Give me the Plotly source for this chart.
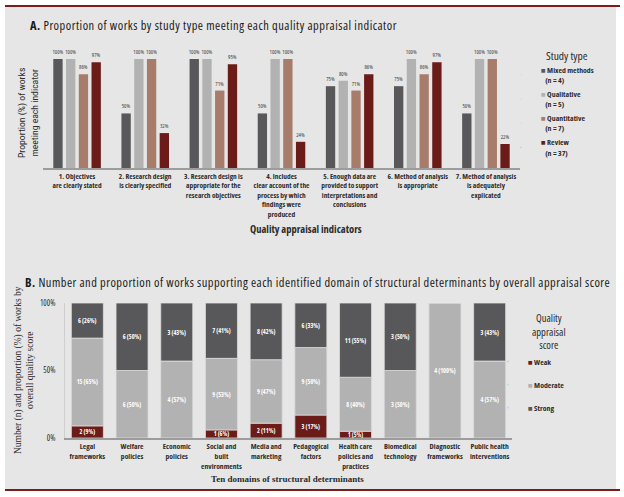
import plotly.graph_objects as go

W, H = 624, 497

def px(x):
    return x / W

def py(y):
    return 1 - y / H

# ---------------- Data: panel A ----------------
indicator_labels = [
    "1. Objectives<br>are clearly stated",
    "2. Research design<br>is clearly specified",
    "3. Research design is<br>appropriate for the<br>research objectives",
    "4. Includes<br>clear account of the<br>process by which<br>findings were<br>produced",
    "5. Enough data are<br>provided to support<br>interpretations and<br>conclusions",
    "6. Method of analysis<br>is appropriate",
    "7. Method of analysis<br>is adequately<br>explicated",
]
study_types = ["Mixed methods", "Qualitative", "Quantitative", "Review"]
study_n = [4, 5, 7, 37]
mixed_methods = [100, 50, 100, 50, 75, 75, 50]
qualitative = [100, 100, 100, 100, 80, 100, 100]
quantitative = [86, 100, 71, 100, 71, 86, 100]
review = [97, 32, 95, 24, 86, 97, 22]
study_colors = ["#58585a", "#b2b2b2", "#a87c6b", "#6b1c19"]

# ---------------- Data: panel B ----------------
domain_labels = [
    "Legal<br>frameworks",
    "Welfare<br>policies",
    "Economic<br>policies",
    "Social and<br>built<br>environments",
    "Media and<br>marketing",
    "Pedagogical<br>factors",
    "Health care<br>policies and<br>practices",
    "Biomedical<br>technology",
    "Diagnostic<br>frameworks",
    "Public health<br>interventions",
]
score_levels = ["Weak", "Moderate", "Strong"]
weak_n = [2, 0, 0, 1, 2, 3, 1, 0, 0, 0]
moderate_n = [15, 6, 4, 9, 9, 9, 8, 3, 4, 4]
strong_n = [6, 6, 3, 7, 8, 6, 11, 3, 0, 3]
weak_pct = [9, 0, 0, 6, 11, 17, 5, 0, 0, 0]
moderate_pct = [65, 50, 57, 53, 47, 50, 40, 50, 100, 57]
strong_pct = [26, 50, 43, 41, 42, 33, 55, 50, 0, 43]
score_colors = ["#6b1c19", "#b2b2b2", "#58585a"]
y_ticks_b = [0, 50, 100]

SANS = "Open Sans, Liberation Sans, sans-serif"
ROBOTO = "Roboto, Open Sans, sans-serif"
SERIF = "Liberation Serif, DejaVu Serif, serif"
TXT = "#2b2b2b"


def cond(s, spacing=None):
    extra = f";letter-spacing:{spacing}px" if spacing else ""
    return f"<span style='font-stretch:condensed{extra}'>{s}</span>"


fig = go.Figure()

# ---- Panel A bars (grouped via explicit offsets) ----
series_a = [mixed_methods, qualitative, quantitative, review]
bar_w = 0.137
pitch = 0.187
start = -(3 * pitch + bar_w) / 2
for i, (name, vals, col) in enumerate(zip(study_types, series_a, study_colors)):
    fig.add_trace(go.Bar(
        x=indicator_labels, y=vals, name=name,
        marker=dict(color=col, line=dict(width=0)),
        width=bar_w, offset=start + i * pitch,
        text=[cond(f"{v}%") for v in vals], textposition="outside", textangle=0,
        constraintext="none", cliponaxis=False,
        textfont=dict(family=SANS, size=5.6, color="#3a3a3a"),
        xaxis="x", yaxis="y", showlegend=False, hoverinfo="skip",
    ))

# ---- Panel B stacked bars (explicit bases) ----
base_moderate = list(weak_pct)
base_strong = [w + m for w, m in zip(weak_pct, moderate_pct)]
stack = [
    (weak_n, weak_pct, [0] * len(weak_pct)),
    (moderate_n, moderate_pct, base_moderate),
    (strong_n, strong_pct, base_strong),
]
for name, col, (ns, ps, bs) in zip(score_levels, score_colors, stack):
    fig.add_trace(go.Bar(
        x=domain_labels, y=ps, base=bs, name=name,
        marker=dict(color=col, line=dict(color="#dcdcdc", width=0.8)),
        width=0.716, offset=-0.358,
        text=[cond(f"{n} ({p}%)") if n else "" for n, p in zip(ns, ps)],
        textposition="inside", insidetextanchor="middle", textangle=0,
        constraintext="none",
        textfont=dict(family=SANS, size=6.2, color="white", weight="bold"),
        xaxis="x2", yaxis="y2", showlegend=False, hoverinfo="skip",
    ))

# ---- Legend entries (dummy traces with square glyphs) ----
NB = "&nbsp;"
for i, (name, n, col) in enumerate(zip(study_types, study_n, study_colors)):
    fig.add_trace(go.Scatter(
        x=[None], y=[None], mode="markers", marker=dict(opacity=0, size=1),
        name=cond(f"<span style='color:{col}'>■</span> {name}<br>{NB*3}(n = {n})"),
        legend="legend", legendgroup=f"a{i}", xaxis="x", yaxis="y",
    ))
for i, (name, col) in enumerate(zip(score_levels, score_colors)):
    fig.add_trace(go.Scatter(
        x=[None], y=[None], mode="markers", marker=dict(opacity=0, size=1),
        name=cond(f"<span style='color:{col}'>■</span> {name}"),
        legend="legend2", legendgroup=f"b{i}", xaxis="x2", yaxis="y2",
    ))

axis_line = "#9c9c9c"
fig.update_layout(
    width=W, height=H,
    margin=dict(l=0, r=0, t=0, b=0),
    paper_bgcolor="white",
    plot_bgcolor="rgba(0,0,0,0)",
    font=dict(family=SANS, color=TXT),
    barmode="group",
    hovermode=False,
    xaxis=dict(
        domain=[px(43), px(520)], type="category", anchor="y",
        showline=True, linecolor=axis_line, linewidth=1.5,
        ticks="", showgrid=False, automargin=False, tickangle=0,
        tickmode="array", tickvals=indicator_labels,
        ticktext=[cond(t) for t in indicator_labels],
        tickfont=dict(family=SANS, size=7.4, color=TXT, weight="bold"),
        range=[-0.5, 6.5], fixedrange=True,
    ),
    yaxis=dict(
        domain=[py(168), py(48)], range=[0, 110], visible=False,
        anchor="x", automargin=False, fixedrange=True,
    ),
    xaxis2=dict(
        domain=[px(65), px(512)], type="category", anchor="y2",
        showline=True, linecolor=axis_line, linewidth=2,
        ticks="", showgrid=False, automargin=False, tickangle=0,
        tickmode="array", tickvals=domain_labels,
        ticktext=[cond(t) for t in domain_labels],
        tickfont=dict(family=SANS, size=7.6, color=TXT, weight="bold"),
        range=[-0.5, 9.5], fixedrange=True,
    ),
    yaxis2=dict(
        domain=[py(438), py(303)], range=[0, 100], anchor="x2",
        showline=True, linecolor="#cfcfcf", linewidth=1,
        tickmode="array", tickvals=y_ticks_b,
        ticktext=[cond(f"{v}%") for v in y_ticks_b],
        ticks="", showgrid=False, zeroline=False, automargin=False,
        ticklabelstandoff=7, fixedrange=True,
        tickfont=dict(family=SANS, size=8, color=TXT),
    ),
    legend=dict(
        x=px(501), y=py(58), xanchor="left", yanchor="top",
        bgcolor="rgba(0,0,0,0)", borderwidth=0,
        font=dict(family=SANS, size=7.8, color=TXT, weight="bold"),
        tracegroupgap=1, itemclick=False, itemdoubleclick=False,
    ),
    legend2=dict(
        x=px(488), y=py(347), xanchor="left", yanchor="top",
        bgcolor="rgba(0,0,0,0)", borderwidth=0,
        font=dict(family=SANS, size=7.8, color=TXT, weight="bold"),
        tracegroupgap=4, itemclick=False, itemdoubleclick=False,
    ),
    shapes=[
        dict(type="rect", xref="paper", yref="paper",
             x0=px(5), x1=px(616), y0=py(489), y1=py(7),
             fillcolor="#e6e6e6", line=dict(width=0), layer="below"),
        dict(type="line", xref="paper", yref="paper",
             x0=px(5), x1=px(620), y0=py(6), y1=py(6),
             line=dict(color="#7a1d1b", width=2)),
        dict(type="line", xref="paper", yref="paper",
             x0=px(5), x1=px(620), y0=py(490), y1=py(490),
             line=dict(color="#7a1d1b", width=2)),
    ],
    annotations=[
        dict(text=cond("<b>A.</b> Proportion of works by study type meeting each quality appraisal indicator", 0.5),
             x=px(28), y=py(25), xref="paper", yref="paper", xanchor="left", yanchor="middle",
             showarrow=False, font=dict(family=SANS, size=12.4, color="#1a1a1a")),
        dict(text=cond("<b>B.</b> Number and proportion of works supporting each identified domain of structural determinants by overall appraisal score", 0.48),
             x=px(23), y=py(282), xref="paper", yref="paper", xanchor="left", yanchor="middle",
             showarrow=False, font=dict(family=SANS, size=12.4, color="#1a1a1a")),
        dict(text=cond("Proportion (%) of works<br>meeting each indicator"), textangle=-90,
             x=px(28), y=py(113), xref="paper", yref="paper", xanchor="center", yanchor="middle",
             showarrow=False, font=dict(family=ROBOTO, size=9.7, color=TXT)),
        dict(text=cond("<b>Quality appraisal indicators</b>"),
             x=px(306), y=py(229), xref="paper", yref="paper", xanchor="center", yanchor="middle",
             showarrow=False, font=dict(family=SANS, size=10.5, color=TXT)),
        dict(text="Number (n) and proportion (%) of works by<br>overall quality score", textangle=-90,
             x=px(24), y=py(370), xref="paper", yref="paper", xanchor="center", yanchor="middle",
             showarrow=False, font=dict(family=SERIF, size=9.5, color=TXT)),
        dict(text="<b>Ten domains of structural determinants</b>",
             x=px(287), y=py(479), xref="paper", yref="paper", xanchor="center", yanchor="middle",
             showarrow=False, font=dict(family=SERIF, size=9, color=TXT)),
        dict(text=cond("Study type"),
             x=px(567), y=py(56), xref="paper", yref="paper", xanchor="center", yanchor="middle",
             showarrow=False, font=dict(family=SANS, size=11.5, color=TXT)),
        dict(text=cond("Quality<br>appraisal<br>score"),
             x=px(549), y=py(331), xref="paper", yref="paper", xanchor="center", yanchor="middle",
             showarrow=False, font=dict(family=SANS, size=10.5, color=TXT)),
    ],
)

fig.write_html(
    "out.html",
    config={"displayModeBar": False, "staticPlot": False},
    post_script="document.body.style.margin='0px';",
)
